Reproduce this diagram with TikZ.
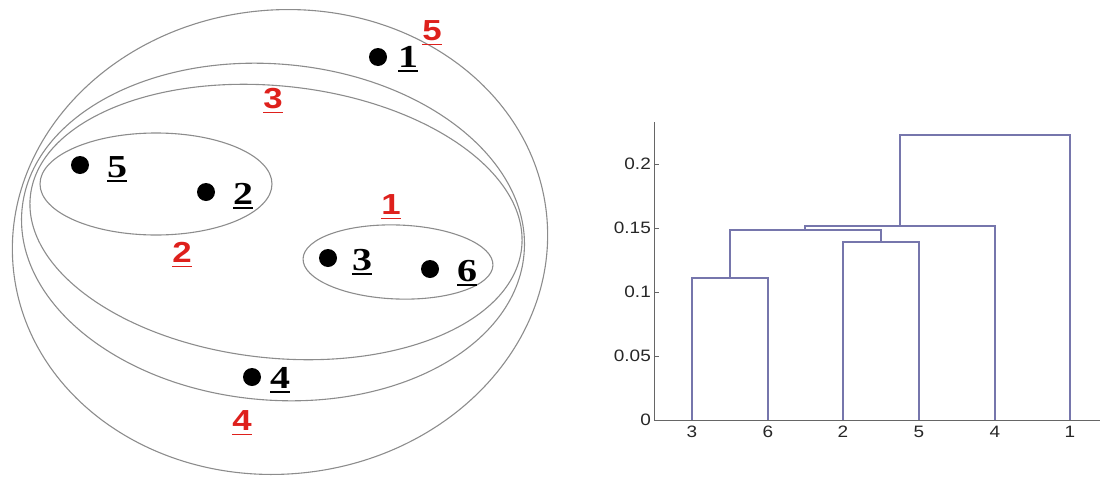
\documentclass[tikz,border=0pt]{standalone}
\usepackage{fontspec}
\setmainfont{Liberation Serif}
\newfontfamily\labsans{Liberation Sans}
\newcommand\myul[3]{\begingroup\setbox0\hbox{#1}\leavevmode\rlap{\rule[-#2]{\wd0}{#3}}\box0\endgroup}
\definecolor{clred}{RGB}{222,32,28}
\definecolor{dendcol}{RGB}{118,118,172}
\begin{document}
\begin{tikzpicture}[x=1pt,y=-1pt,
  ring/.style={draw=black!45,line width=1.1pt},
  dot/.style={circle,fill=black,inner sep=0pt,minimum size=18pt},
  blk/.style={inner sep=0pt,font=\fontsize{32}{36}\selectfont\bfseries},
  red/.style={inner sep=0pt,text=clred,font=\labsans\fontsize{29}{32}\selectfont\bfseries},
  dend/.style={draw=dendcol,line width=1.1pt},
  axis/.style={draw=black!60,line width=1pt},
  tick/.style={inner sep=0pt,font=\labsans\fontsize{16.5}{19}\selectfont,text=black!85}]
\useasboundingbox (0,0) rectangle (1103,477);
% cluster rings
\draw[ring,rotate around={6:(280,242)}] (280,242) ellipse [x radius=268,y radius=232];
\draw[ring,rotate around={-5:(273,232)}] (273,232) ellipse [x radius=252,y radius=168];
\draw[ring,rotate around={-6:(276,222)}] (276,222) ellipse [x radius=247,y radius=136];
\draw[ring] (156,184) ellipse [x radius=116,y radius=51];
\draw[ring,rotate around={-2:(398,262)}] (398,262) ellipse [x radius=95,y radius=37];
% points
\node[dot] (d1) at (378,57) {};
\node[dot] (d5) at (80,165) {};
\node[dot] (d2) at (206,192) {};
\node[dot] (d3) at (328,258) {};
\node[dot] (d6) at (430,269) {};
\node[dot] (d4) at (252,377) {};
\node[blk,anchor=base] (l1) at (408,67) {\scalebox{1.25}[1]{\myul{1}{5pt}{2pt}}};
\node[blk,anchor=base] (l5) at (117,177) {\scalebox{1.25}[1]{\myul{5}{5pt}{2pt}}};
\node[blk,anchor=base] (l2) at (243,204) {\scalebox{1.25}[1]{\myul{2}{5pt}{2pt}}};
\node[blk,anchor=base] (l3) at (362,270) {\scalebox{1.25}[1]{\myul{3}{5pt}{2pt}}};
\node[blk,anchor=base] (l6) at (467,281) {\scalebox{1.25}[1]{\myul{6}{5pt}{2pt}}};
\node[blk,anchor=base] (l4) at (280,388) {\scalebox{1.25}[1]{\myul{4}{5pt}{2pt}}};
% cluster labels
\node[red,anchor=base] (c5) at (432,40) {\scalebox{1.2}[1]{\myul{5}{5pt}{1.5pt}}};
\node[red,anchor=base] (c3) at (273,108) {\scalebox{1.2}[1]{\myul{3}{5pt}{1.5pt}}};
\node[red,anchor=base] (c1) at (391,214) {\scalebox{1.2}[1]{\myul{1}{5pt}{1.5pt}}};
\node[red,anchor=base] (c2) at (182,262) {\scalebox{1.2}[1]{\myul{2}{5pt}{1.5pt}}};
\node[red,anchor=base] (c4) at (242,430) {\scalebox{1.2}[1]{\myul{4}{5pt}{1.5pt}}};
% dendrogram axes
\draw[axis] (654,122) -- (654,420) -- (1100,420);
\foreach \v/\yy/\lab in {0/420/0,1/356/0.05,2/292/0.1,3/228/0.15,4/164/0.2}{
  \draw[axis,line width=0.8pt] (654,\yy) -- (659,\yy);
  \node[tick,anchor=east] (t\v) at (651,\yy) {\scalebox{1.15}[1]{\lab}};
}
% leaves
\foreach \n/\xx in {3/692,6/768,2/843,5/919,4/995,1/1070}{
  \coordinate (leaf\n) at (\xx,420);
  \node[tick,anchor=north] (x\n) at (\xx,426) {\scalebox{1.15}[1]{\n}};
}
% merges
\draw[dend] (leaf3) |- (730,278) -| (leaf6);
\draw[dend] (leaf2) |- (881,242) -| (leaf5);
\draw[dend] (730,278) |- (805,230) -| (881,242);
\draw[dend] (805,230) |- (900,226) -| (leaf4);
\draw[dend] (900,226) |- (985,135) -| (leaf1);
\end{tikzpicture}
\end{document}
